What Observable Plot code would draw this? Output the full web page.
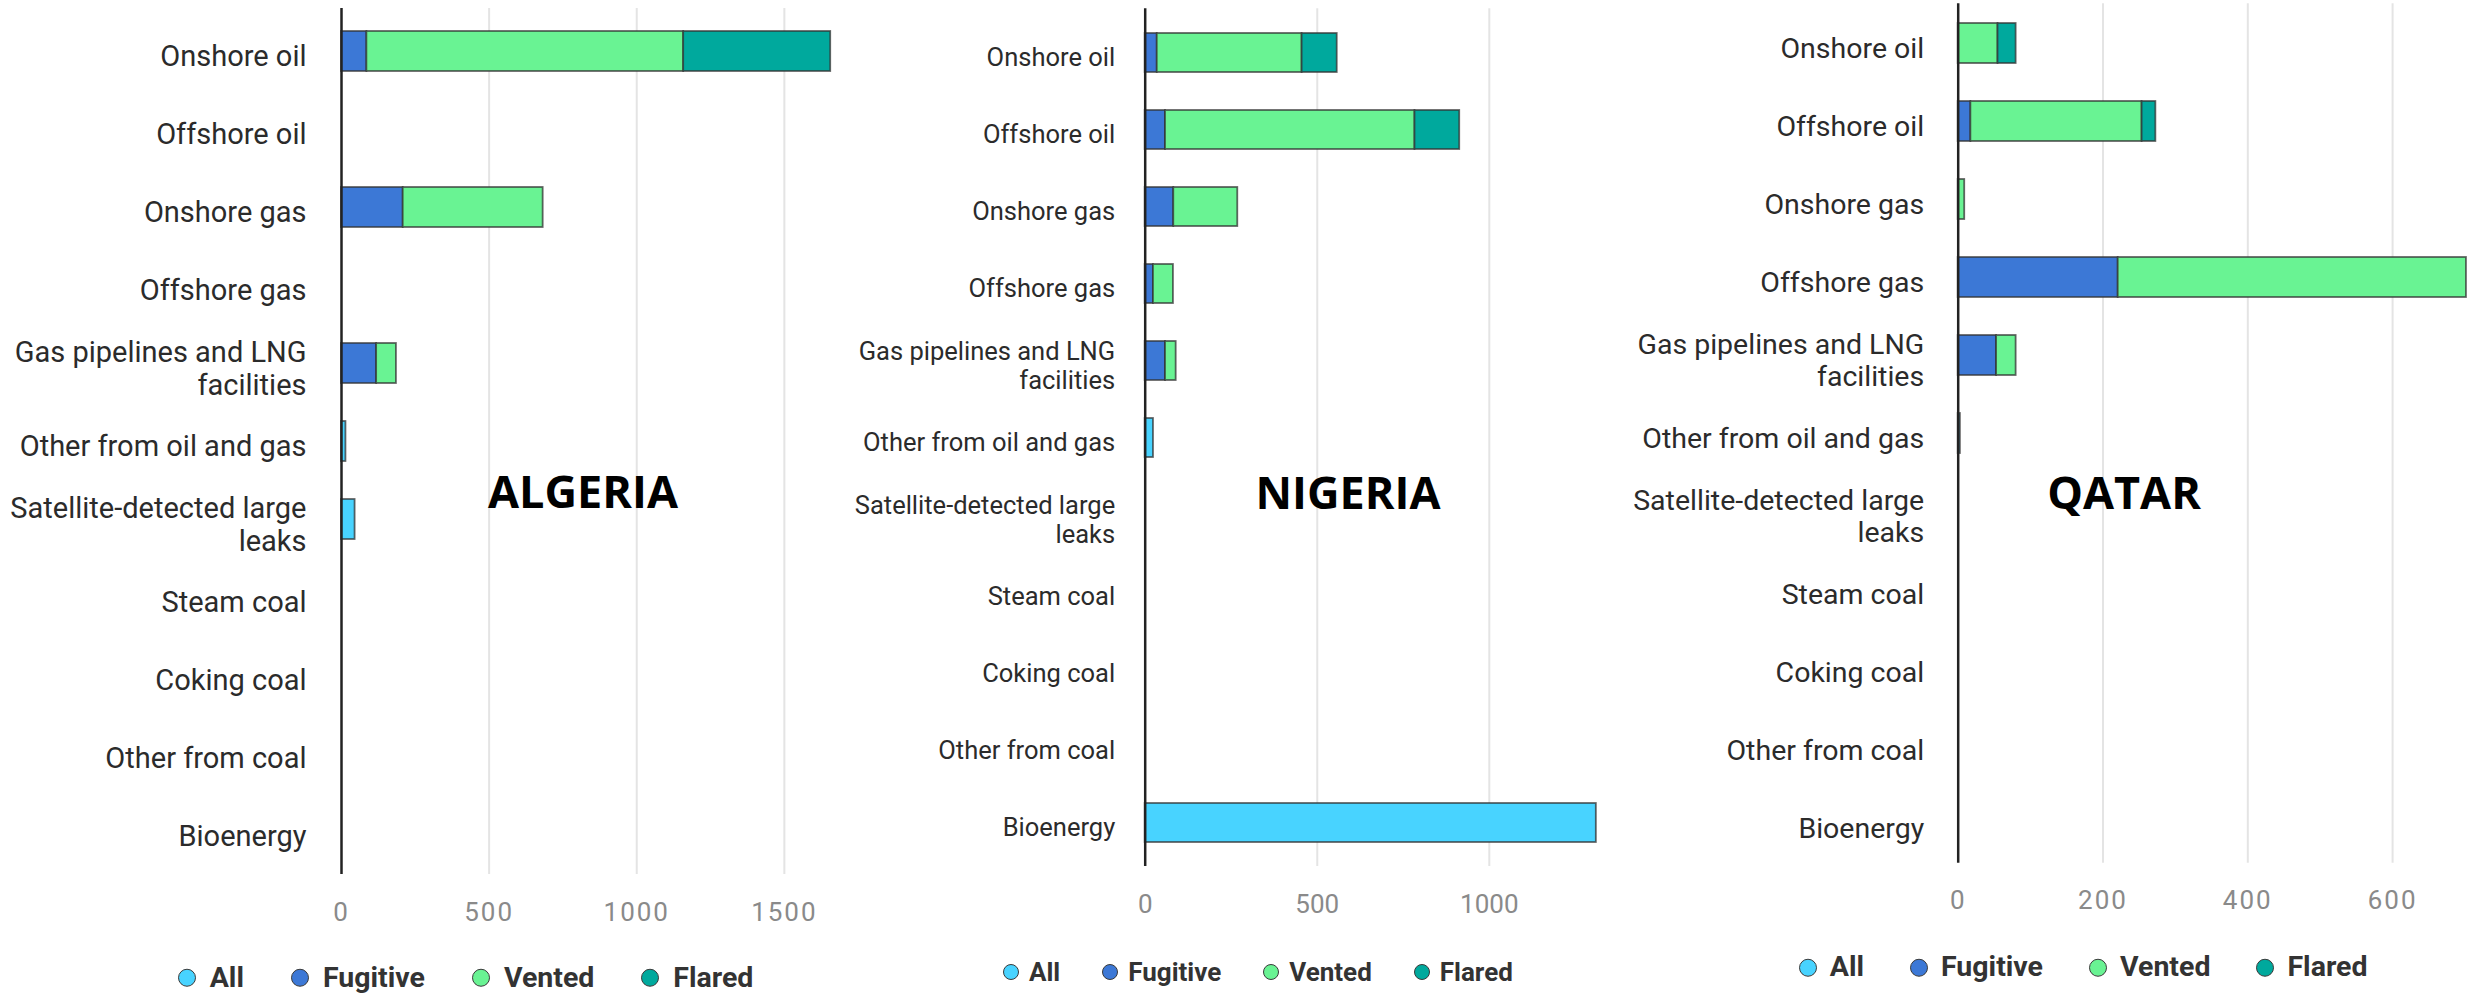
<!DOCTYPE html>
<html>
<head>
<meta charset="utf-8">
<script src="https://cdn.jsdelivr.net/npm/d3@7"></script>
<script src="https://cdn.jsdelivr.net/npm/@observablehq/plot@0.6"></script>
<style>
  html, body { margin: 0; padding: 0; background: #fff; }
  #root { position: relative; width: 2481px; height: 995px; overflow: hidden; background: #fff; }
  .panel { position: absolute; top: 0; }
  .country { position: absolute; font-family: "Open Sans", sans-serif; font-weight: 700; color: #000; line-height: 1; white-space: nowrap; transform: translateX(-50%); }
  .legend { position: absolute; display: flex; align-items: center; transform: translateY(-50%); font-family: Roboto, sans-serif; font-weight: 700; color: #333; white-space: nowrap; line-height: 1; }
  .legend .dot { display: inline-block; border-radius: 50%; box-sizing: border-box; border: 1.5px solid #3a3a3a; }
</style>
</head>
<body>
<div id="root"></div>
<script>
// ---------- data ----------
const categories = [
  "Onshore oil",
  "Offshore oil",
  "Onshore gas",
  "Offshore gas",
  "Gas pipelines and LNG\nfacilities",
  "Other from oil and gas",
  "Satellite-detected large\nleaks",
  "Steam coal",
  "Coking coal",
  "Other from coal",
  "Bioenergy"
];
const types = ["All", "Fugitive", "Vented", "Flared"];
const typeColors = ["#48d3ff", "#3c78d6", "#69f393", "#00a99d"];

const algeriaAll      = [0, 0, 0, 0, 0, 15, 46, 0, 0, 0, 0];
const algeriaFugitive = [86, 0, 209, 0, 119, 0, 0, 0, 0, 0, 0];
const algeriaVented   = [1073, 0, 474, 0, 67, 0, 0, 0, 0, 0, 0];
const algeriaFlared   = [498, 0, 0, 0, 0, 0, 0, 0, 0, 0, 0];

const nigeriaAll      = [0, 0, 0, 0, 0, 24, 0, 0, 0, 0, 1311];
const nigeriaFugitive = [35, 59, 83, 24, 59, 0, 0, 0, 0, 0, 0];
const nigeriaVented   = [421, 725, 186, 58, 31, 0, 0, 0, 0, 0, 0];
const nigeriaFlared   = [102, 130, 0, 0, 0, 0, 0, 0, 0, 0, 0];

const qatarAll      = [0, 0, 0, 0, 0, 3, 0, 0, 0, 0, 0];
const qatarFugitive = [0, 17.5, 0, 221, 53, 0, 0, 0, 0, 0, 0];
const qatarVented   = [55, 236.5, 9, 481, 27, 0, 0, 0, 0, 0, 0];
const qatarFlared   = [25, 19, 0, 0, 0, 0, 0, 0, 0, 0, 0];

const algeriaTicks = [0, 500, 1000, 1500];
const nigeriaTicks = [0, 500, 1000];
const qatarTicks   = [0, 200, 400, 600];

const countryNames = ["ALGERIA", "NIGERIA", "QATAR"];

// ---------- helpers ----------
function buildRows(all, fug, ven, fla) {
  const series = [all, fug, ven, fla];
  const rows = [];
  categories.forEach((c, i) => {
    types.forEach((t, k) => {
      const v = series[k][i];
      if (v > 0) rows.push({category: c, type: t, value: v});
    });
  });
  return rows;
}

const root = document.getElementById("root");

function panel(cfg) {
  const div = document.createElement("div");
  div.className = "panel";
  div.style.left = cfg.left + "px";
  const grid = cfg.ticks.filter(d => d !== 0);
  const svg = Plot.plot({
    width: cfg.width,
    height: cfg.height,
    marginLeft: cfg.marginLeft,
    marginRight: 0,
    marginTop: cfg.top,
    marginBottom: cfg.height - cfg.bottom,
    style: {fontFamily: "Roboto, sans-serif", background: "transparent", overflow: "visible"},
    x: {domain: [0, cfg.xMax], label: null},
    y: {domain: categories, paddingInner: 0.49, paddingOuter: 0.245, label: null},
    color: {domain: types, range: typeColors},
    marks: [
      Plot.gridX(grid, {stroke: "#e4e4e4", strokeOpacity: 1, strokeWidth: 2}),
      Plot.barX(cfg.rows, Plot.stackX({
        y: "category", x: "value", fill: "type",
        stroke: "#333", strokeOpacity: 0.75, strokeWidth: 1.8
      })),
      Plot.ruleX([0], {stroke: "#222", strokeWidth: 2.5}),
      Plot.axisX({
        ticks: cfg.ticks, tickSize: 0, tickPadding: cfg.tickPad,
        tickFormat: "d", fontSize: 26, color: "#8a8a8a", label: null
      }),
      Plot.axisY({
        tickSize: 0, tickPadding: cfg.labelPad, fontSize: cfg.labelFont,
        color: "#2b2b2b", lineHeight: 1.15, dy: 4, label: null
      })
    ]
  });
  if (cfg.letterSpacing) {
    d3.select(svg).selectAll('g[aria-label="x-axis tick label"] text')
      .style("letter-spacing", cfg.letterSpacing + "px");
  }
  div.appendChild(svg);
  root.appendChild(div);

  const name = document.createElement("div");
  name.className = "country";
  name.textContent = cfg.name;
  name.style.fontSize = cfg.nameFont + "px";
  name.style.left = cfg.nameX + "px";
  name.style.top = (cfg.nameY - 0.531 * cfg.nameFont) + "px";
  root.appendChild(name);

  const lg = document.createElement("div");
  lg.className = "legend";
  lg.style.left = (cfg.lg.x - cfg.lg.r) + "px";
  lg.style.top = cfg.lg.y + "px";
  lg.style.fontSize = cfg.lg.font + "px";
  types.forEach((t, k) => {
    const dot = document.createElement("span");
    dot.className = "dot";
    dot.style.width = dot.style.height = (2 * cfg.lg.r) + "px";
    dot.style.background = typeColors[k];
    dot.style.marginRight = cfg.lg.textGap + "px";
    const txt = document.createElement("span");
    txt.textContent = t;
    if (k < types.length - 1) txt.style.marginRight = cfg.lg.itemGap + "px";
    lg.appendChild(dot);
    lg.appendChild(txt);
  });
  root.appendChild(lg);
}

panel({
  name: countryNames[0], left: 0, width: 837, height: 935, marginLeft: 341,
  top: 8, bottom: 874, xMax: 1680, ticks: algeriaTicks, tickPad: 28.5,
  labelFont: 29, labelPad: 35, letterSpacing: 2,
  rows: buildRows(algeriaAll, algeriaFugitive, algeriaVented, algeriaFlared),
  nameX: 583, nameY: 491.5, nameFont: 45,
  lg: {x: 186.7, y: 978, r: 9, textGap: 14, itemGap: 47, font: 28.5}
});
panel({
  name: countryNames[1], left: 837, width: 775, height: 935, marginLeft: 307.7,
  top: 8.3, bottom: 866, xMax: 1358, ticks: nigeriaTicks, tickPad: 28.5,
  labelFont: 25.5, labelPad: 30, letterSpacing: 0,
  rows: buildRows(nigeriaAll, nigeriaFugitive, nigeriaVented, nigeriaFlared),
  nameX: 1348, nameY: 492.5, nameFont: 45,
  lg: {x: 1011, y: 971.7, r: 8, textGap: 10, itemGap: 42, font: 26}
});
panel({
  name: countryNames[2], left: 1612, width: 869, height: 935, marginLeft: 345.7,
  top: 3.3, bottom: 862.7, xMax: 722.8, ticks: qatarTicks, tickPad: 27.4,
  labelFont: 28.5, labelPad: 34, letterSpacing: 2,
  rows: buildRows(qatarAll, qatarFugitive, qatarVented, qatarFlared),
  nameX: 2124, nameY: 493, nameFont: 45,
  lg: {x: 1807.8, y: 967.3, r: 9, textGap: 13, itemGap: 46, font: 28.5}
});
</script>
</body>
</html>
